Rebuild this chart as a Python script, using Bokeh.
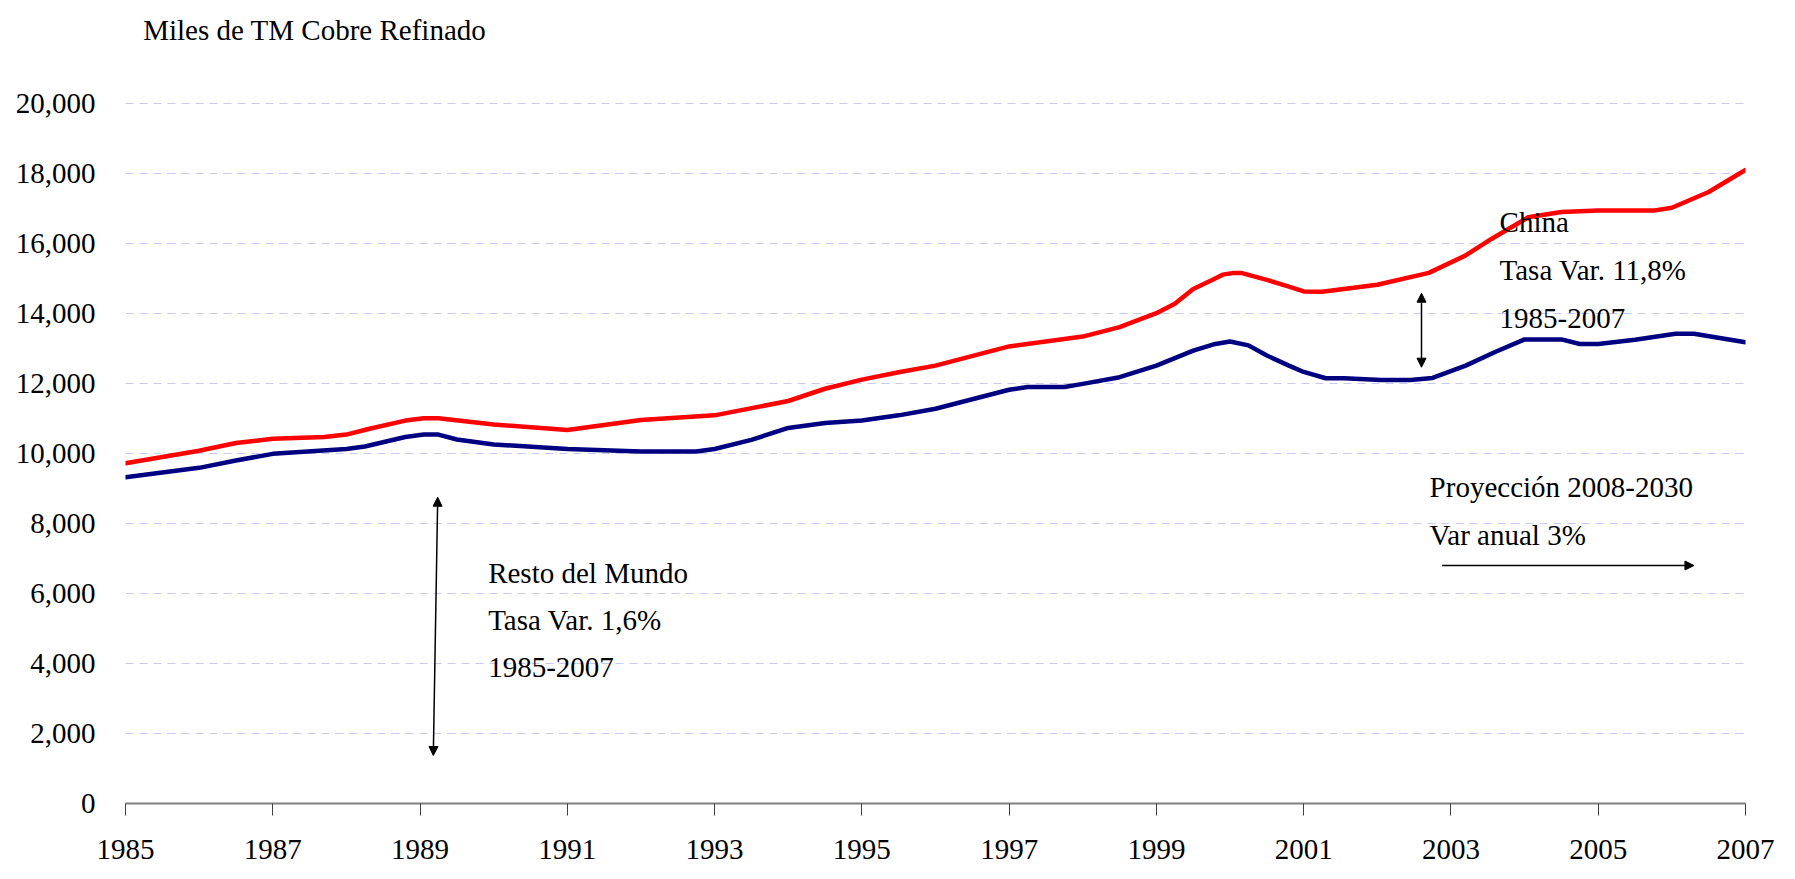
from bokeh.plotting import figure
from bokeh.models import (FixedTicker, NumeralTickFormatter, Label, Arrow,
                          NormalHead, Range1d)
from bokeh.embed import file_html
from bokeh.resources import INLINE

# ---------------- data ----------------
china_years = [1985.0, 1986.0, 1986.5, 1987.0, 1987.7, 1988.0, 1988.3, 1988.8,
               1989.05, 1989.25, 1990.0, 1991.0, 1992.0, 1993.0, 1994.0, 1994.5,
               1995.0, 1995.5, 1996.0, 1997.0, 1998.0, 1998.5, 1999.0, 1999.25,
               1999.5, 1999.75, 1999.9, 2000.05, 2000.15, 2000.5, 2000.8, 2001.0,
               2001.25, 2002.0, 2002.7, 2003.2, 2003.55, 2004.05, 2004.5, 2005.0,
               2005.75, 2006.0, 2006.5, 2006.8, 2007.0]
china_total = [9720, 10080, 10300, 10420, 10470, 10540, 10700, 10940,
               11010, 11010, 10830, 10670, 10960, 11090, 11500, 11850,
               12110, 12320, 12510, 13060, 13340, 13610, 14010, 14280,
               14700, 14950, 15110, 15160, 15160, 14960, 14770, 14630,
               14620, 14820, 15160, 15660, 16130, 16750, 16900, 16940,
               16940, 17020, 17470, 17850, 18100]

rest_years = [1985.0, 1986.0, 1986.5, 1987.0, 1988.0, 1988.25, 1988.8, 1989.05,
              1989.25, 1989.5, 1990.0, 1991.0, 1992.0, 1992.75, 1993.0, 1993.5,
              1994.0, 1994.5, 1995.0, 1995.5, 1996.0, 1997.0, 1997.25, 1997.75,
              1998.0, 1998.5, 1999.0, 1999.5, 1999.8, 2000.0, 2000.25, 2000.5,
              2000.8, 2001.0, 2001.3, 2001.55, 2002.05, 2002.45, 2002.75, 2003.2,
              2003.6, 2004.0, 2004.5, 2004.75, 2005.0, 2005.5, 2006.05, 2006.3,
              2007.0]
rest_world = [9320, 9590, 9800, 9990, 10130, 10200, 10470, 10540,
              10540, 10400, 10260, 10130, 10060, 10060, 10130, 10390,
              10730, 10870, 10940, 11090, 11280, 11820, 11900, 11900,
              11990, 12180, 12510, 12940, 13130, 13200, 13090, 12800,
              12510, 12330, 12150, 12150, 12100, 12100, 12160, 12510,
              12900, 13260, 13260, 13130, 13130, 13250, 13420, 13420,
              13180]

x_ticks = [1985, 1987, 1989, 1991, 1993, 1995, 1997, 1999, 2001, 2003, 2005, 2007]
y_ticks = [0, 2000, 4000, 6000, 8000, 10000, 12000, 14000, 16000, 18000, 20000]

title_text = "Miles de TM Cobre Refinado"
rest_text = ["Resto del Mundo", "Tasa Var. 1,6%", "1985-2007"]
china_text = ["China", "Tasa Var. 11,8%", "1985-2007"]
proj_text = ["Proyección 2008-2030", "Var anual 3%"]

FONT = "Liberation Serif"
FS = "29px"

# frame spans from 10px (top) to 803px (bottom); 20,000 sits at 103px
Y_TOP = 20000 + 93 / 0.035

p = figure(width=1795, height=879, output_backend="svg", toolbar_location=None,
           x_range=Range1d(1985, 2007), y_range=Range1d(0, Y_TOP),
           min_border_left=125, min_border_right=50, min_border_top=10,
           min_border_bottom=76)
p.outline_line_color = None
p.background_fill_color = "white"
p.border_fill_color = "white"

# axes
p.xaxis.ticker = FixedTicker(ticks=x_ticks)
p.yaxis.ticker = FixedTicker(ticks=y_ticks)
p.yaxis.formatter = NumeralTickFormatter(format="0,0")
for ax in (p.xaxis[0], p.yaxis[0]):
    ax.major_label_text_font = FONT
    ax.major_label_text_font_size = FS
    ax.major_label_text_color = "black"
    ax.minor_tick_line_color = None
p.yaxis.axis_line_color = None
p.yaxis.major_tick_line_color = None
p.yaxis.major_label_standoff = 24
p.xaxis.axis_line_color = "#7f7f7f"
p.xaxis.axis_line_width = 2
p.xaxis.major_tick_line_color = "#404040"
p.xaxis.major_tick_line_width = 1
p.xaxis.major_tick_out = 12
p.xaxis.major_tick_in = 0
p.xaxis.major_label_standoff = 24

# grid
p.xgrid.grid_line_color = None
p.ygrid.grid_line_color = "#c8c8f4"
p.ygrid.grid_line_dash = "8 6"
p.ygrid.grid_line_width = 1

# lines
p.line(rest_years, rest_world, line_color="#000080", line_width=4.5,
       line_join="round", line_cap="round")
p.line(china_years, china_total, line_color="#ff0000", line_width=4.5,
       line_join="round", line_cap="round")

def add_lines(texts, x, ys):
    for t, y in zip(texts, ys):
        p.add_layout(Label(x=x, y=y, text=t, text_font=FONT, text_font_size=FS,
                           text_baseline="middle", text_color="black"))

add_lines([title_text], 1985.24, [22114])
add_lines(rest_text, 1989.925, [6586, 5257, 3900])
add_lines(china_text, 2003.66, [16620, 15229, 13871])
add_lines(proj_text, 2002.71, [9037, 7677])

# arrows
def head():
    return NormalHead(size=9, fill_color="black", line_color="black")

p.add_layout(Arrow(x_start=1989.18, y_start=1371, x_end=1989.24, y_end=8751,
                   start=head(), end=head(), line_width=1.5, line_color="black"))
p.add_layout(Arrow(x_start=2002.60, y_start=12466, x_end=2002.60, y_end=14580,
                   start=head(), end=head(), line_width=1.5, line_color="black"))
p.add_layout(Arrow(x_start=2002.88, y_start=6800, x_end=2006.30, y_end=6800,
                   end=head(), line_width=1.5, line_color="black"))

open("out.html", "w").write(file_html(p, INLINE))
